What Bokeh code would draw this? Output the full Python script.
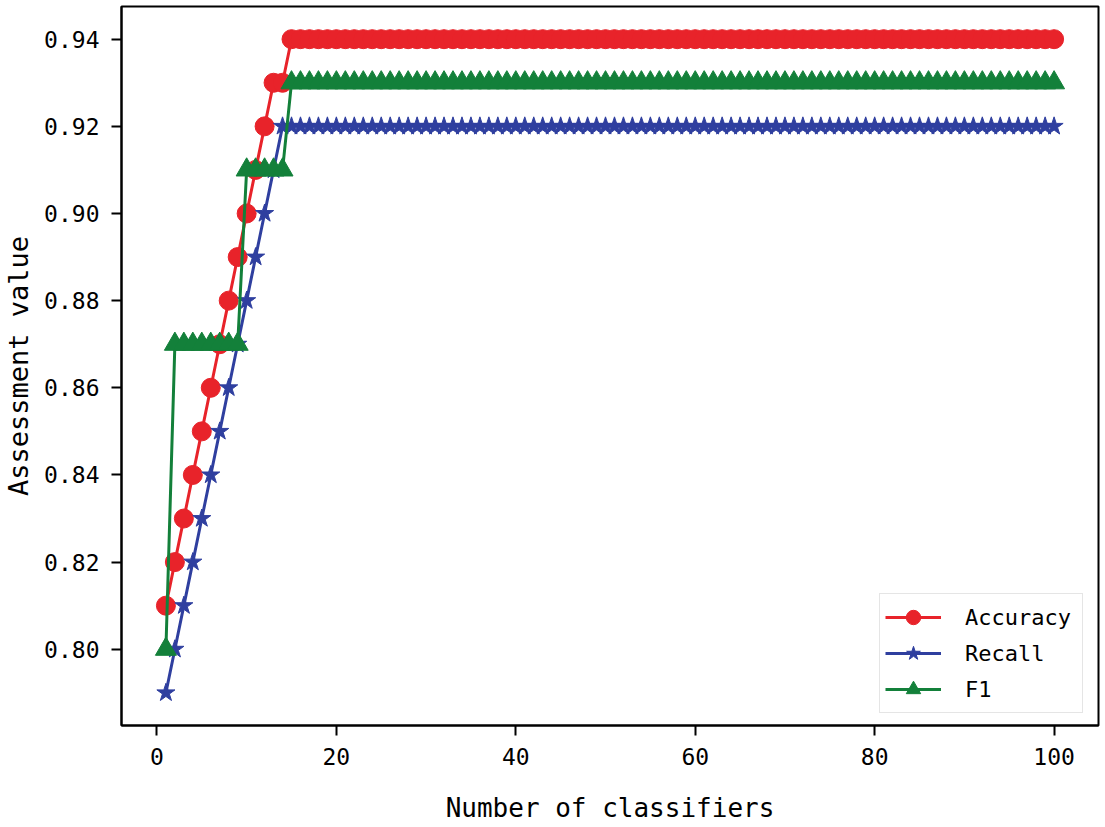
from bokeh.plotting import figure
from bokeh.models import FixedTicker, Range1d, Legend, LegendItem
from bokeh.embed import file_html
from bokeh.resources import INLINE

x_values = list(range(1, 101))

accuracy = [
    0.81, 0.82, 0.83, 0.84, 0.85, 0.86, 0.87, 0.88, 0.89, 0.90,
    0.91, 0.92, 0.93, 0.93, 0.94, 0.94, 0.94, 0.94, 0.94, 0.94,
    0.94, 0.94, 0.94, 0.94, 0.94, 0.94, 0.94, 0.94, 0.94, 0.94,
    0.94, 0.94, 0.94, 0.94, 0.94, 0.94, 0.94, 0.94, 0.94, 0.94,
    0.94, 0.94, 0.94, 0.94, 0.94, 0.94, 0.94, 0.94, 0.94, 0.94,
    0.94, 0.94, 0.94, 0.94, 0.94, 0.94, 0.94, 0.94, 0.94, 0.94,
    0.94, 0.94, 0.94, 0.94, 0.94, 0.94, 0.94, 0.94, 0.94, 0.94,
    0.94, 0.94, 0.94, 0.94, 0.94, 0.94, 0.94, 0.94, 0.94, 0.94,
    0.94, 0.94, 0.94, 0.94, 0.94, 0.94, 0.94, 0.94, 0.94, 0.94,
    0.94, 0.94, 0.94, 0.94, 0.94, 0.94, 0.94, 0.94, 0.94, 0.94,
]

recall = [
    0.79, 0.80, 0.81, 0.82, 0.83, 0.84, 0.85, 0.86, 0.87, 0.88,
    0.89, 0.90, 0.91, 0.92, 0.92, 0.92, 0.92, 0.92, 0.92, 0.92,
    0.92, 0.92, 0.92, 0.92, 0.92, 0.92, 0.92, 0.92, 0.92, 0.92,
    0.92, 0.92, 0.92, 0.92, 0.92, 0.92, 0.92, 0.92, 0.92, 0.92,
    0.92, 0.92, 0.92, 0.92, 0.92, 0.92, 0.92, 0.92, 0.92, 0.92,
    0.92, 0.92, 0.92, 0.92, 0.92, 0.92, 0.92, 0.92, 0.92, 0.92,
    0.92, 0.92, 0.92, 0.92, 0.92, 0.92, 0.92, 0.92, 0.92, 0.92,
    0.92, 0.92, 0.92, 0.92, 0.92, 0.92, 0.92, 0.92, 0.92, 0.92,
    0.92, 0.92, 0.92, 0.92, 0.92, 0.92, 0.92, 0.92, 0.92, 0.92,
    0.92, 0.92, 0.92, 0.92, 0.92, 0.92, 0.92, 0.92, 0.92, 0.92,
]

f1 = [
    0.80, 0.87, 0.87, 0.87, 0.87, 0.87, 0.87, 0.87, 0.87, 0.91,
    0.91, 0.91, 0.91, 0.91, 0.93, 0.93, 0.93, 0.93, 0.93, 0.93,
    0.93, 0.93, 0.93, 0.93, 0.93, 0.93, 0.93, 0.93, 0.93, 0.93,
    0.93, 0.93, 0.93, 0.93, 0.93, 0.93, 0.93, 0.93, 0.93, 0.93,
    0.93, 0.93, 0.93, 0.93, 0.93, 0.93, 0.93, 0.93, 0.93, 0.93,
    0.93, 0.93, 0.93, 0.93, 0.93, 0.93, 0.93, 0.93, 0.93, 0.93,
    0.93, 0.93, 0.93, 0.93, 0.93, 0.93, 0.93, 0.93, 0.93, 0.93,
    0.93, 0.93, 0.93, 0.93, 0.93, 0.93, 0.93, 0.93, 0.93, 0.93,
    0.93, 0.93, 0.93, 0.93, 0.93, 0.93, 0.93, 0.93, 0.93, 0.93,
    0.93, 0.93, 0.93, 0.93, 0.93, 0.93, 0.93, 0.93, 0.93, 0.93,
]

x_ticks = [0, 20, 40, 60, 80, 100]
y_ticks = [0.80, 0.82, 0.84, 0.86, 0.88, 0.90, 0.92, 0.94]
y_tick_labels = ["0.80", "0.82", "0.84", "0.86", "0.88", "0.90", "0.92", "0.94"]

FONT = "DejaVu Sans Mono"
RED = "#e8232a"
BLUE = "#2f3f9f"
GREEN = "#13803a"

p = figure(width=1104, height=825, output_backend="svg", toolbar_location=None,
           x_range=Range1d(-3.95, 104.95), y_range=Range1d(0.7825, 0.9475),
           min_border_left=120, min_border_right=6, min_border_top=6,
           min_border_bottom=95)
p.grid.visible = False
p.outline_line_color = "black"
p.outline_line_width = 2
p.background_fill_color = "white"
p.border_fill_color = "white"

r_acc_l = p.line(x_values, accuracy, line_color=RED, line_width=3)
r_acc_m = p.scatter(x_values, accuracy, marker="circle", size=19,
                    fill_color=RED, line_color=RED)
r_rec_l = p.line(x_values, recall, line_color=BLUE, line_width=3)
r_rec_m = p.scatter(x_values, recall, marker="star", size=19,
                    fill_color=BLUE, line_color=BLUE)
r_f1_l = p.line(x_values, f1, line_color=GREEN, line_width=3)
r_f1_m = p.scatter(x_values, f1, marker="triangle", size=21,
                   fill_color=GREEN, line_color=GREEN)

legend = Legend(items=[
    LegendItem(label="Accuracy", renderers=[r_acc_l, r_acc_m]),
    LegendItem(label="Recall", renderers=[r_rec_l, r_rec_m]),
    LegendItem(label="F1", renderers=[r_f1_l, r_f1_m]),
], location=(758, 12))
legend.label_text_font = FONT
legend.label_text_font_size = "22px"
legend.label_text_color = "black"
legend.glyph_width = 56
legend.glyph_height = 36
legend.label_height = 36
legend.label_width = 112
legend.label_standoff = 24
legend.spacing = 0
legend.padding = 5
legend.margin = 0
legend.border_line_color = "#cccccc"
legend.border_line_width = 1.5
legend.background_fill_color = "white"
legend.background_fill_alpha = 1.0
p.add_layout(legend)

p.xaxis.ticker = FixedTicker(ticks=x_ticks)
p.yaxis.ticker = FixedTicker(ticks=y_ticks)
p.yaxis.major_label_overrides = {t: s for t, s in zip(y_ticks, y_tick_labels)}

for ax in (p.xaxis, p.yaxis):
    ax.axis_line_color = "black"
    ax.axis_line_width = 2
    ax.major_tick_line_color = "black"
    ax.major_tick_line_width = 2
    ax.major_tick_in = 0
    ax.major_tick_out = 10
    ax.minor_tick_line_color = None
    ax.major_label_text_font = FONT
    ax.major_label_text_font_size = "23px"
    ax.major_label_text_color = "black"
    ax.axis_label_text_font = FONT
    ax.axis_label_text_font_style = "normal"
    ax.axis_label_text_color = "black"

p.xaxis.axis_label = "Number of classifiers"
p.yaxis.axis_label = "Assessment value"
p.xaxis.axis_label_text_font_size = "26px"
p.yaxis.axis_label_text_font_size = "27px"
p.xaxis.major_label_standoff = 12
p.yaxis.major_label_standoff = 12
p.xaxis.axis_label_standoff = 25
p.yaxis.axis_label_standoff = 7

open("out.html", "w").write(file_html(p, INLINE))
